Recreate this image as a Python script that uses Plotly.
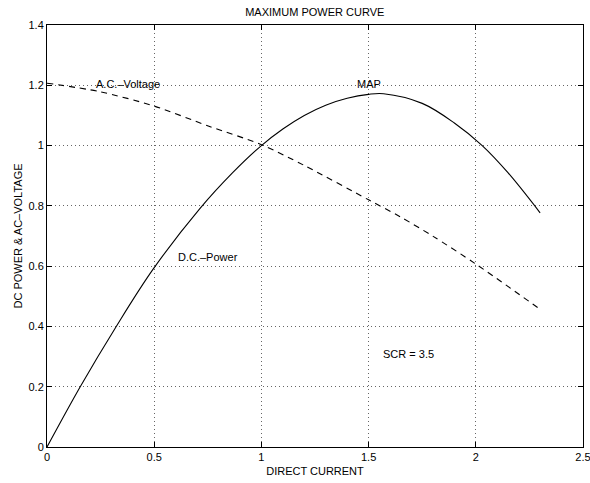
import plotly.graph_objects as go

# DC power versus direct current
current_p = [0, 0.155, 0.323, 0.495, 0.712, 0.866, 1.0, 1.1, 1.2, 1.3, 1.4, 1.5, 1.57,
             1.75, 1.9, 2.03, 2.15, 2.3]
dc_power = [0, 0.2, 0.4, 0.59, 0.79, 0.91, 1.0, 1.055, 1.10, 1.134, 1.157, 1.170, 1.172,
            1.14, 1.075, 1.0, 0.91, 0.777]

# AC voltage versus direct current
current_v = [0, 0.245, 0.5, 0.752, 1.0, 1.203, 1.5, 1.647, 1.803, 2.0, 2.3]
ac_voltage = [1.207, 1.179, 1.131, 1.065, 1.003, 0.933, 0.82, 0.764, 0.698, 0.607, 0.457]

x_ticks = [0, 0.5, 1, 1.5, 2, 2.5]
x_tick_text = ["0", "0.5", "1", "1.5", "2", "2.5"]
y_ticks = [0, 0.2, 0.4, 0.6, 0.8, 1.0, 1.2, 1.4]
y_tick_text = ["0", "0.2", "0.4", "0.6", "0.8", "1", "1.2", "1.4"]

# text labels: (x, y, text), anchored at their left edge
labels = [
    (0.22, 1.205, "A.C.\u2013Voltage"),
    (1.437, 1.205, "MAP"),
    (0.6, 0.63, "D.C.\u2013Power"),
    (1.558, 0.31, "SCR = 3.5"),
]

FONT = "Liberation Sans, Arial, Helvetica, sans-serif"

fig = go.Figure()
fig.add_trace(go.Scatter(
    x=current_p, y=dc_power, mode="lines", line_shape="spline", line_smoothing=1.0,
    line=dict(color="black", width=1.1), showlegend=False, hoverinfo="skip",
))
fig.add_trace(go.Scatter(
    x=current_v, y=ac_voltage, mode="lines", line_shape="spline", line_smoothing=0.8,
    line=dict(color="black", width=1.1, dash="6px,5px"), showlegend=False, hoverinfo="skip",
))

for lx, ly, txt in labels:
    fig.add_annotation(x=lx, y=ly, text=txt, showarrow=False, xanchor="left", yanchor="middle",
                       font=dict(family=FONT, size=11, color="black"))

axis_common = dict(
    showline=True, linecolor="black", linewidth=1, mirror="ticks",
    ticks="inside", ticklen=5, tickcolor="black", tickwidth=1,
    showgrid=True, gridcolor="#666666", griddash="1px,3px", gridwidth=1,
    zeroline=False, tickfont=dict(family=FONT, size=11, color="black"),
    ticklabeloverflow="allow", automargin=False,
)

fig.update_layout(
    width=590, height=483,
    margin=dict(l=47, r=7, t=25, b=36),
    paper_bgcolor="white", plot_bgcolor="white",
    title=dict(text="MAXIMUM POWER CURVE", x=0.5335, xanchor="center", y=0.975, yanchor="middle",
               font=dict(family=FONT, size=11, color="black")),
    xaxis=dict(range=[0, 2.5], tickvals=x_ticks, ticktext=x_tick_text,
               title=dict(text="DIRECT CURRENT", standoff=5, font=dict(family=FONT, size=11, color="black")),
               **axis_common),
    yaxis=dict(range=[0, 1.4], tickvals=y_ticks, ticktext=y_tick_text,
               title=dict(text="DC POWER & AC\u2013VOLTAGE", standoff=3, font=dict(family=FONT, size=11, color="black")),
               **axis_common),
)

fig.write_html("out.html")
